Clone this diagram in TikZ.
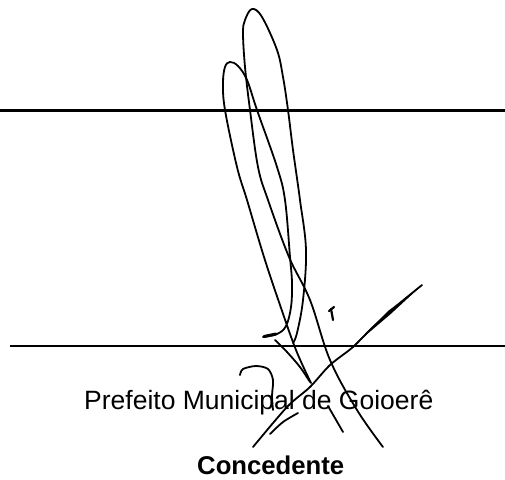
\documentclass[tikz,border=0pt]{standalone}
\usepackage{fontspec}
\setmainfont{Liberation Sans}

\begin{document}
\begin{tikzpicture}[x=1pt,y=1pt]
\tikzstyle{every node}+=[inner sep=0pt]
\tikzstyle{inkline}=[black, line width=1.8pt, line cap=round, line join=round]
\useasboundingbox (0,0) rectangle (505,-479);
% signing lines
\draw [black, line width=3pt] (0,-110) -- (505,-110);
\draw [black, line width=2pt] (10,-345.5) -- (505,-345.5);
% texts
\draw (84,-409) node [anchor=base west, font=\fontsize{26.5}{30}\selectfont] (office) {Prefeito Municipal de Goioerê};
\draw (197,-474) node [anchor=base west, font=\fontsize{25.7}{30}\selectfont\bfseries] (party) {Concedente};
% small loop
\draw [inkline] plot [smooth, tension=0.6] coordinates {(263,-337) (277,-334) (286,-326) (291,-307) (292,-283) (290,-257) (285,-200) (277,-167) (257,-110) (247,-80) (238,-66) (230,-62) (225,-67) (223,-83) (225,-110) (237,-167) (247,-200) (264,-257) (280,-305) (296,-350) (311,-383)};
\draw [black, line width=3pt, line cap=round] (264,-336.5) -- (276,-334);
\draw [inkline] plot [smooth] coordinates {(275,-340) (287,-352) (300,-367) (310,-382)};
\draw [inkline] (328,-406) -- (343,-432);
% tall loop
\draw [inkline] plot [smooth, tension=0.6] coordinates {(293,-343) (297,-333) (303,-300) (306,-250) (300,-200) (293,-150) (288,-110) (283,-77) (277,-50) (262,-17) (252,-9) (245,-20) (243,-33) (245,-67) (250,-110) (258,-167) (268,-200) (289,-257) (310,-300) (330,-360) (357,-410) (383,-447)};
% cross stroke
\draw [inkline] plot [smooth] coordinates {(422,-285) (400,-303) (373,-327) (353,-347) (330,-365) (310,-387) (287,-407) (253,-447)};
\fill [black] (421,-286) -- (391.3,-313.5) -- (352,-347) -- (388.7,-310.5) -- cycle;
% hook over the text
\draw [inkline] plot [smooth] coordinates {(240,-375) (243,-369) (256,-366) (268,-369) (273,-380) (272,-396) (273,-410)};
\draw [inkline] plot [smooth] coordinates {(270,-434) (283,-422) (298,-413)};
% tick
\draw [black, line width=2.2pt, line cap=round] (329,-311) -- (334,-307);
\draw [black, line width=2.2pt, line cap=round] (331,-309) -- (333,-320);
\end{tikzpicture}
\end{document}
